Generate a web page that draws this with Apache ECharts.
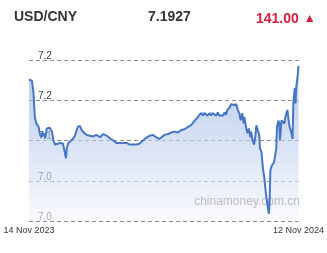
<!DOCTYPE html>
<html>
<head>
<meta charset="utf-8">
<script src="https://cdn.jsdelivr.net/npm/echarts@6/dist/echarts.min.js"></script>
<style>
html,body{margin:0;padding:0;background:#fff;}
#chart{width:327px;height:253px;}
</style>
</head>
<body>
<div id="chart"></div>
<script>
// ---- data ----
const pairName = 'USD/CNY';
const lastRate = '7.1927';
const changeText = '141.00';
const startDate = '2023-11-14';
const endDate = '2024-11-12';
const endLabels = ['14 Nov 2023', '12 Nov 2024'];
const yTicks = [7.00, 7.05, 7.10, 7.15, 7.20];
const watermark = 'chinamoney.com.cn';

// days since startDate
const dayOffsets = [
  0,4,6,8,10,13,15,17,19,22,
  24,26,28,31,33,35,37,39,42,44,
  46,48,50,51,53,55,57,60,62,64,
  66,69,71,73,75,78,80,82,84,87,
  89,91,93,96,98,100,102,105,107,109,
  111,114,116,118,120,123,125,127,129,132,
  134,136,141,145,149,154,158,163,167,172,
  176,179,183,188,192,197,201,206,210,215,
  217,219,221,224,226,228,230,233,235,237,
  239,241,244,246,248,250,253,255,257,259,
  262,264,266,268,271,273,275,277,280,282,
  284,286,288,290,291,293,295,297,299,300,
  302,304,306,307,309,311,312,314,316,318,
  320,322,324,325,326,328,330,331,334,335,
  337,338,339,341,342,345,346,348,349,351,
  352,354,356,357,359,360,361,363,364
];
const rates = [
  7.176,7.174,7.160,7.128,7.121,7.117,7.107,7.104,7.110,7.103,
  7.115,7.117,7.116,7.111,7.100,7.095,7.097,7.096,7.097,7.096,
  7.096,7.094,7.078,7.090,7.097,7.097,7.100,7.103,7.106,7.112,
  7.117,7.118,7.113,7.111,7.109,7.107,7.109,7.106,7.107,7.105,
  7.107,7.107,7.105,7.104,7.106,7.108,7.107,7.106,7.105,7.103,
  7.101,7.100,7.098,7.097,7.095,7.097,7.095,7.097,7.095,7.097,
  7.095,7.095,7.095,7.095,7.096,7.100,7.103,7.106,7.107,7.104,
  7.102,7.104,7.107,7.108,7.110,7.111,7.110,7.113,7.114,7.117,
  7.116,7.119,7.121,7.125,7.127,7.129,7.132,7.134,7.131,7.134,
  7.132,7.131,7.134,7.131,7.134,7.136,7.131,7.135,7.131,7.132,
  7.131,7.135,7.132,7.138,7.141,7.145,7.146,7.144,7.145,7.138,
  7.134,7.125,7.134,7.121,7.129,7.117,7.109,7.115,7.104,7.111,
  7.100,7.095,7.107,7.119,7.121,7.107,7.090,7.086,7.065,7.053,
  7.034,7.021,7.009,7.023,7.063,7.069,7.071,7.073,7.090,7.117,
  7.125,7.121,7.100,7.125,7.127,7.121,7.128,7.129,7.138,7.123,
  7.117,7.111,7.102,7.146,7.165,7.146,7.167,7.181,7.1927
];

// ---- build ----
const DAY = 86400000;
const spanDays = Math.round((Date.parse(endDate) - Date.parse(startDate)) / DAY);
const seriesData = dayOffsets.map((d, i) => [d, rates[i]]);

const chart = echarts.init(document.getElementById('chart'), null, {renderer: 'canvas'});
const font = 'Liberation Sans, Arial, sans-serif';
const headStyle = {fontFamily: font, fontSize: 14, fontWeight: 'bold', color: '#333'};
chart.setOption({
  animation: false,
  backgroundColor: '#fff',
  title: [
    {text: pairName, left: 14, top: 10, padding: 0, textStyle: headStyle},
    {text: lastRate, left: 148, top: 10, padding: 0, textStyle: headStyle},
    {text: '{v|' + changeText + '} {a|▲}', left: 256, top: 10, padding: 0,
     textStyle: {rich: {
       v: {fontFamily: font, fontSize: 14, fontWeight: 'bold', color: '#d6203c'},
       a: {fontFamily: font, fontSize: 12, color: '#d6203c'}
     }}}
  ],
  grid: {left: 29, right: 28, top: 60, bottom: 32},
  xAxis: {
    type: 'value',
    min: 0, max: spanDays,
    axisLine: {show: false},
    axisTick: {show: false},
    splitLine: {show: false},
    axisLabel: {
      customValues: [0, spanDays],
      formatter: function (v) { return v === 0 ? endLabels[0] : (v === spanDays ? endLabels[1] : ''); },
      fontFamily: font, fontSize: 9, color: '#333', margin: 5,
      hideOverlap: false
    }
  },
  yAxis: {
    type: 'value',
    min: yTicks[0], max: yTicks[yTicks.length - 1], interval: 0.05,
    axisLine: {show: false},
    axisTick: {show: false},
    axisLabel: {
      inside: true, margin: 9, verticalAlign: 'bottom', lineHeight: 8,
      fontFamily: font, fontSize: 10, color: '#444',
      formatter: function (v) { return v.toFixed(1); }
    },
    splitLine: {lineStyle: {color: '#8c8c8c', type: [4, 3], width: 1}}
  },
  graphic: [{
    type: 'text', right: 27, top: 196, z: 5,
    style: {text: watermark, fontFamily: font, fontSize: 12, fill: '#bdbdbd'}
  }],
  series: [
    {
      type: 'line', data: seriesData, showSymbol: false, z: 1,
      lineStyle: {width: 0},
      areaStyle: {
        origin: 'start',
        color: new echarts.graphic.LinearGradient(0, 0, 0, 1, [
          {offset: 0, color: 'rgba(140,170,222,0.9)'},
          {offset: 1, color: 'rgba(244,247,253,0.85)'}
        ])
      }
    },
    {
      type: 'line', data: seriesData, showSymbol: false, z: 10,
      lineStyle: {width: 2, color: '#4677c6'},
      itemStyle: {color: '#4677c6'}
    }
  ]
});
</script>
</body>
</html>
